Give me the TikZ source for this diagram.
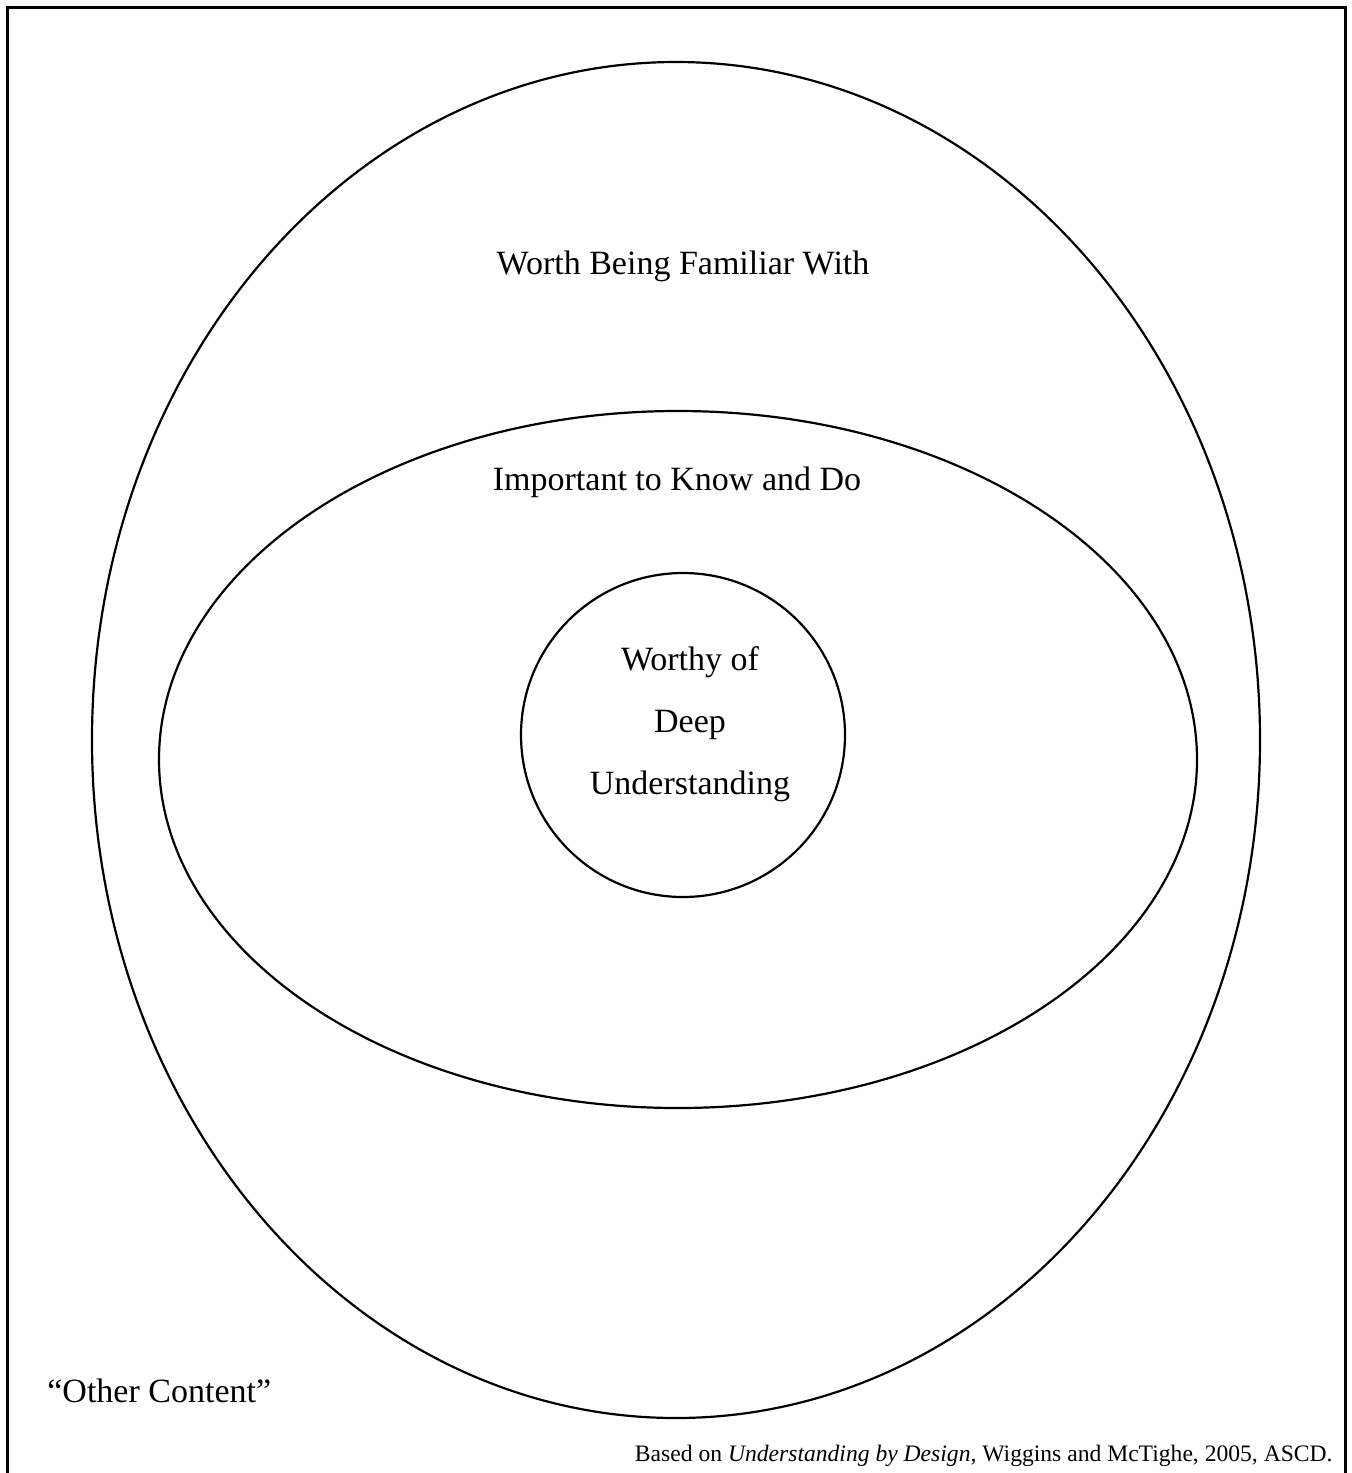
\documentclass[tikz,border=0pt]{standalone}
\usepackage{fontspec}
\setmainfont{Liberation Serif}
\usepackage{tikz}
\tikzset{
  ring/.style={line width=1.1pt},
  lbl/.style={font=\fontsize{17}{20}\selectfont},
}

\begin{document}
\begin{tikzpicture}[x=0.5pt,y=-0.5pt]
\useasboundingbox (0,0) rectangle (1352,1473);
\draw[line width=1.5pt] (7,1473)--(7,7)--(1345,7)--(1345,1473);
\draw[ring] (676,740) ellipse (584 and 678);
\draw[ring] (678,759.5) ellipse (519 and 348.5);
\draw[ring] (683,735) circle (162);
\node[lbl] (familiar) at (683,266) {Worth Being Familiar With};
\node[lbl] (important) at (677,482) {Important to Know and Do};
\node[lbl,align=center] (deep) at (690,724) {Worthy of\\[11pt]Deep\\[11pt]Understanding};
\node[lbl,anchor=west,inner sep=0pt] (other) at (47,1391) {``Other Content''};
\node[font=\fontsize{11.8}{14}\selectfont,anchor=east,inner sep=0pt] (source) at (1333,1456) {Based on \textit{Understanding by Design}, Wiggins and McTighe, 2005, ASCD.};
\end{tikzpicture}
\end{document}
